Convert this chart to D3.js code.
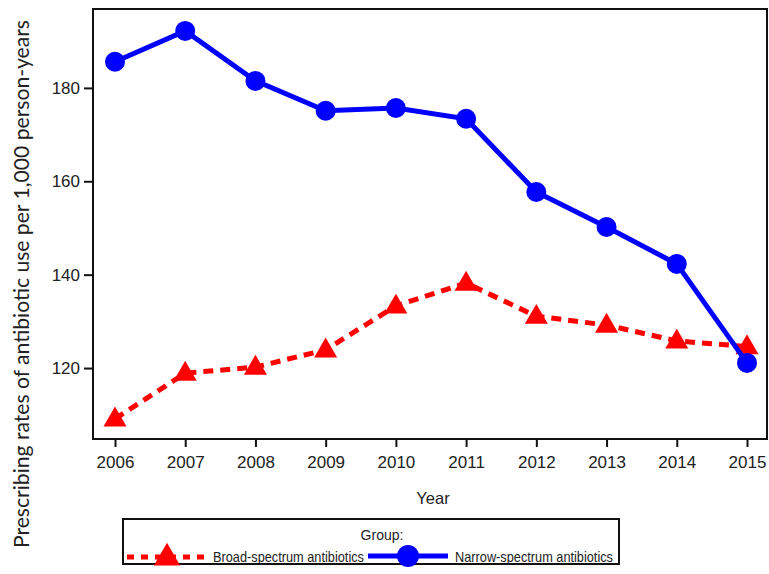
<!DOCTYPE html>
<html>
<head>
<meta charset="utf-8">
<script src="https://cdn.jsdelivr.net/npm/d3@7"></script>
<style>
    body { margin: 0; background: #fff; }
    svg text { font-family: "Liberation Sans", Arial, sans-serif; fill: #222; }
</style>
</head>
<body>
<div id="chart"></div>
<script>
// values
var years = [2006, 2007, 2008, 2009, 2010, 2011, 2012, 2013, 2014, 2015];
var broadRates = [109.1, 118.9, 120.2, 123.9, 133.3, 138.2, 131.1, 129.2, 125.8, 124.6];
var narrowRates = [185.6, 192.2, 181.5, 175.1, 175.7, 173.4, 157.7, 150.2, 142.3, 121.1];
var yTicks = [120, 140, 160, 180];
var seriesNames = ['Broad-spectrum antibiotics', 'Narrow-spectrum antibiotics'];

var W = 769, H = 574,
    plot = {left: 93, top: 9, right: 767, bottom: 439};

var svg = d3.select('#chart')
    .append('svg')
    .attr('width', W)
    .attr('height', H);

var x = d3.scaleLinear()
    .domain([2006, 2015])
    .range([115, 747]);

var y = d3.scaleLinear()
    .domain([104.8, 196.9])
    .range([plot.bottom, plot.top]);

// frame
svg.append('rect')
    .attr('x', plot.left)
    .attr('y', plot.top)
    .attr('width', plot.right - plot.left)
    .attr('height', plot.bottom - plot.top)
    .attr('fill', 'none')
    .attr('stroke', '#111')
    .attr('stroke-width', 2);

// axes
var xAxis = svg.append('g')
    .attr('transform', 'translate(0,' + plot.bottom + ')')
    .call(d3.axisBottom(x).tickValues(years).tickFormat(d3.format('d')).tickSize(8).tickPadding(9));
var yAxis = svg.append('g')
    .attr('transform', 'translate(' + plot.left + ',0)')
    .call(d3.axisLeft(y).tickValues(yTicks).tickSize(9).tickPadding(4));

[xAxis, yAxis].forEach(function (ax) {
    ax.select('.domain').remove();
    ax.selectAll('.tick line').attr('stroke', '#111').attr('stroke-width', 2);
    ax.selectAll('.tick text')
        .style('font-family', '"Liberation Sans", Arial, sans-serif')
        .style('font-size', '17px')
        .attr('fill', '#222');
});

// axis titles
svg.append('text')
    .attr('x', 433)
    .attr('y', 504)
    .attr('text-anchor', 'middle')
    .style('font-size', '16.5px')
    .text('Year');

svg.append('text')
    .attr('transform', 'translate(29,284) rotate(-90)')
    .attr('text-anchor', 'middle')
    .style('font-family', 'Lato, "Open Sans", sans-serif')
    .style('font-size', '20.5px')
    .attr('textLength', 528)
    .attr('lengthAdjust', 'spacingAndGlyphs')
    .attr('fill', '#111')
    .text('Prescribing rates of antibiotic use per 1,000 person-years');

var line = d3.line()
    .x(function (d) { return x(d[0]); })
    .y(function (d) { return y(d[1]); });

var broad = d3.zip(years, broadRates),
    narrow = d3.zip(years, narrowRates);

var tri = d3.symbol().type(d3.symbolTriangle).size(230);

// broad spectrum
svg.append('path')
    .datum(broad)
    .attr('d', line)
    .attr('fill', 'none')
    .attr('stroke', '#ff0000')
    .attr('stroke-width', 5)
    .attr('stroke-dasharray', '10,7');

svg.append('g')
    .selectAll('path')
    .data(broad)
    .enter()
    .append('path')
    .attr('d', tri)
    .attr('transform', function (d) {
        return 'translate(' + x(d[0]) + ',' + (y(d[1]) + 1) + ')';
    })
    .attr('fill', '#ff0000');

// narrow spectrum
svg.append('path')
    .datum(narrow)
    .attr('d', line)
    .attr('fill', 'none')
    .attr('stroke', '#0000ff')
    .attr('stroke-width', 5);

svg.append('g')
    .selectAll('circle')
    .data(narrow)
    .enter()
    .append('circle')
    .attr('cx', function (d) { return x(d[0]); })
    .attr('cy', function (d) { return y(d[1]); })
    .attr('r', 10)
    .attr('fill', '#0000ff');

// legend
var legend = svg.append('g');
legend.append('rect')
    .attr('x', 123)
    .attr('y', 519)
    .attr('width', 496)
    .attr('height', 45)
    .attr('fill', 'none')
    .attr('stroke', '#111')
    .attr('stroke-width', 2);

legend.append('text')
    .attr('x', 382)
    .attr('y', 540)
    .attr('text-anchor', 'middle')
    .style('font-size', '14px')
    .text('Group:');

var ly = 557;
legend.append('line')
    .attr('x1', 127).attr('x2', 207)
    .attr('y1', ly).attr('y2', ly)
    .attr('stroke', '#ff0000')
    .attr('stroke-width', 5)
    .attr('stroke-dasharray', '7,7');
legend.append('path')
    .attr('d', d3.symbol().type(d3.symbolTriangle).size(300))
    .attr('transform', 'translate(167,' + (ly + 1) + ')')
    .attr('fill', '#ff0000');
legend.append('text')
    .attr('x', 213)
    .attr('y', ly + 5)
    .style('font-size', '14.5px')
    .attr('textLength', 151)
    .attr('lengthAdjust', 'spacingAndGlyphs')
    .text(seriesNames[0]);

legend.append('line')
    .attr('x1', 368).attr('x2', 448)
    .attr('y1', ly - 1).attr('y2', ly - 1)
    .attr('stroke', '#0000ff')
    .attr('stroke-width', 5);
legend.append('circle')
    .attr('cx', 408)
    .attr('cy', ly - 1)
    .attr('r', 11)
    .attr('fill', '#0000ff');
legend.append('text')
    .attr('x', 455)
    .attr('y', ly + 5)
    .style('font-size', '14.5px')
    .attr('textLength', 158)
    .attr('lengthAdjust', 'spacingAndGlyphs')
    .text(seriesNames[1]);
</script>
</body>
</html>
